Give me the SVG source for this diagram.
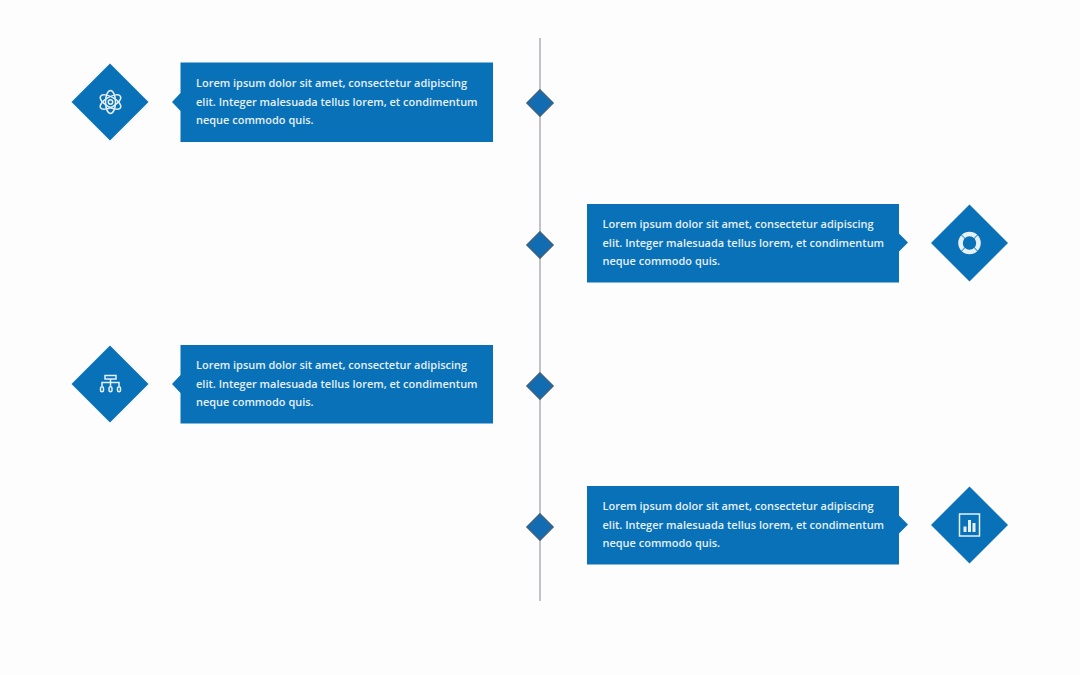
<svg xmlns="http://www.w3.org/2000/svg" width="1080" height="675" viewBox="0 0 1080 675">
<style>
.bg{fill:#fdfdfd}
.fill{fill:#0871b8}
.dot{fill:#126cb2;stroke:#3d6283;stroke-width:1.6}
.line{stroke:#c2c3c9;stroke-width:2;fill:none}
.t{font-family:"Open Sans","Noto Sans",sans-serif;font-size:10.97px;font-weight:600;fill:#e6f0f7}
.i{fill:none;stroke:#e6f0f7;stroke-width:1.5}
.w{fill:#e6f0f7;stroke:none}
</style>
<defs>
<polygon id="big" class="fill" points="0,-38.500 38.500,0 0,38.500 -38.500,0"/>
<polygon id="small" class="dot" points="0,-13 13,0 0,13 -13,0"/>
<g id="copy">
<text class="t" x="15.500" y="28">Lorem ipsum dolor sit amet, consectetur adipiscing</text>
<text class="t" x="15.500" y="47">elit. Integer malesuada tellus lorem, et condimentum</text>
<text class="t" x="15.500" y="65.500">neque commodo quis.</text>
</g>
</defs>
<rect class="bg" width="1080" height="675"/>
<g id="connectors"><line class="line" x1="540" y1="38" x2="540" y2="601"/></g>
<g id="dot1"><use href="#small" x="540" y="103"/></g>
<g id="dot2"><use href="#small" x="540" y="245"/></g>
<g id="dot3"><use href="#small" x="540" y="386"/></g>
<g id="dot4"><use href="#small" x="540" y="527"/></g>
<g id="node1">
<use href="#big" x="110" y="102"/>
<path class="fill" d="M180.500,62.500H493V142H180.500V111L172,102L180.500,93Z"/>
<use href="#copy" x="180.500" y="58.500"/>
<g class="i" transform="translate(110.500,102)"><ellipse rx="11.500" ry="5" transform="rotate(90)"/><ellipse rx="11.500" ry="5" transform="rotate(30)"/><ellipse rx="11.500" ry="5" transform="rotate(-30)"/><circle r="2.200"/></g>
</g>
<g id="node2">
<use href="#big" x="969.500" y="243"/>
<path class="fill" d="M587,204H899V233.500L908,242.500L899,251.500V282.500H587Z"/>
<use href="#copy" x="587" y="199.500"/>
<g transform="translate(969.500,243)"><circle r="9" fill="none" stroke="#e6f0f7" stroke-width="4.600"/><path d="M-8.500,-8.500L-4,-4M8.500,-8.500L4,-4M-8.500,8.500L-4,4M8.500,8.500L4,4" stroke="#0871b8" stroke-width="1"/></g>
</g>
<g id="node3">
<use href="#big" x="110" y="384"/>
<path class="fill" d="M180.500,345H493V423.500H180.500V393L172,384L180.500,375Z"/>
<use href="#copy" x="180.500" y="340.500"/>
<g class="i" transform="translate(110.500,384)"><rect x="-5.500" y="-8.500" width="11" height="3.500"/><path d="M0,-5V-1.500M-8.500,2.500V-1.500H8.500V2.500M0,-1.500V2.500"/><rect x="-10" y="2.800" width="3" height="5" rx="1.500"/><rect x="-1.500" y="2.800" width="3" height="5" rx="1.500"/><rect x="7" y="2.800" width="3" height="5" rx="1.500"/></g>
</g>
<g id="node4">
<use href="#big" x="969.500" y="525"/>
<path class="fill" d="M587,486H899V515.500L908,524.500L899,533.500V564.500H587Z"/>
<use href="#copy" x="587" y="481.500"/>
<g transform="translate(969.500,525)"><rect class="i" x="-10" y="-11" width="20" height="22"/><rect class="w" x="-6" y="1.500" width="3" height="5.500"/><rect class="w" x="-1.500" y="-5" width="3" height="12"/><rect class="w" x="3" y="-2" width="3" height="9"/></g>
</g>
</svg>
